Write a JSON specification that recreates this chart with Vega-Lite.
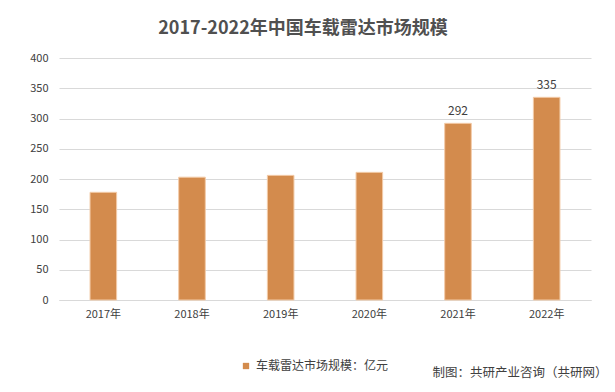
{
  "$schema": "https://vega.github.io/schema/vega-lite/v6.json",
  "autosize": {"type": "none"},
  "width": 532,
  "height": 242,
  "padding": {"left": 59, "top": 58, "right": 24, "bottom": 92},
  "background": "white",
  "title": {
    "text": "2017-2022年中国车载雷达市场规模",
    "font": "Noto Sans CJK SC",
    "fontSize": 18,
    "fontWeight": "bold",
    "color": "#505050",
    "anchor": "middle",
    "dx": -22,
    "offset": 14
  },
  "data": {
    "values": [
      {"year": "2017年", "value": 178, "series": "车载雷达市场规模：亿元"},
      {"year": "2018年", "value": 203, "series": "车载雷达市场规模：亿元"},
      {"year": "2019年", "value": 206, "series": "车载雷达市场规模：亿元"},
      {"year": "2020年", "value": 211, "series": "车载雷达市场规模：亿元"},
      {"year": "2021年", "value": 292, "series": "车载雷达市场规模：亿元"},
      {"year": "2022年", "value": 335, "series": "车载雷达市场规模：亿元"}
    ]
  },
  "encoding": {
    "x": {
      "field": "year",
      "type": "nominal",
      "sort": null,
      "scale": {"paddingInner": 0.7, "paddingOuter": 0.35},
      "axis": {
        "title": "制图：共研产业咨询（共研网）",
        "titleFont": "Noto Sans CJK SC",
        "titleFontSize": 12.5,
        "titleFontWeight": "normal",
        "titleColor": "#404040",
        "titleAlign": "right",
        "titleAnchor": "end",
        "titleX": 548,
        "titleY": 72,
        "titleBaseline": "middle",
        "labelAngle": 0,
        "labelFont": "Noto Sans CJK SC",
        "labelFontSize": 11,
        "labelColor": "#404040",
        "labelPadding": 8,
        "ticks": false,
        "domainColor": "#D9D9D9"
      }
    },
    "y": {
      "field": "value",
      "type": "quantitative",
      "scale": {"domain": [0, 400]},
      "axis": {
        "title": null,
        "values": [0, 50, 100, 150, 200, 250, 300, 350, 400],
        "labelFont": "Noto Sans CJK SC",
        "labelFontSize": 11,
        "labelColor": "#404040",
        "labelPadding": 11,
        "ticks": false,
        "domain": false,
        "gridColor": "#D9D9D9"
      }
    }
  },
  "layer": [
    {
      "mark": {"type": "bar", "stroke": "#F3CBA8", "strokeWidth": 1},
      "encoding": {
        "color": {
          "field": "series",
          "type": "nominal",
          "scale": {"range": ["#D38B4D"]},
          "legend": {
            "title": null,
            "orient": "none",
            "legendX": 181,
            "legendY": 302,
            "symbolType": "square",
            "symbolSize": 40,
            "symbolStrokeWidth": 0,
            "labelFont": "Noto Sans CJK SC",
            "labelFontSize": 12,
            "labelColor": "#404040",
            "labelOffset": 4
          }
        }
      }
    },
    {
      "transform": [{"filter": "datum.value > 250"}],
      "mark": {
        "type": "text",
        "dy": -12,
        "font": "Noto Sans CJK SC",
        "fontSize": 12,
        "color": "#404040"
      },
      "encoding": {"text": {"field": "value", "type": "quantitative"}}
    }
  ],
  "config": {"view": {"stroke": null}}
}
